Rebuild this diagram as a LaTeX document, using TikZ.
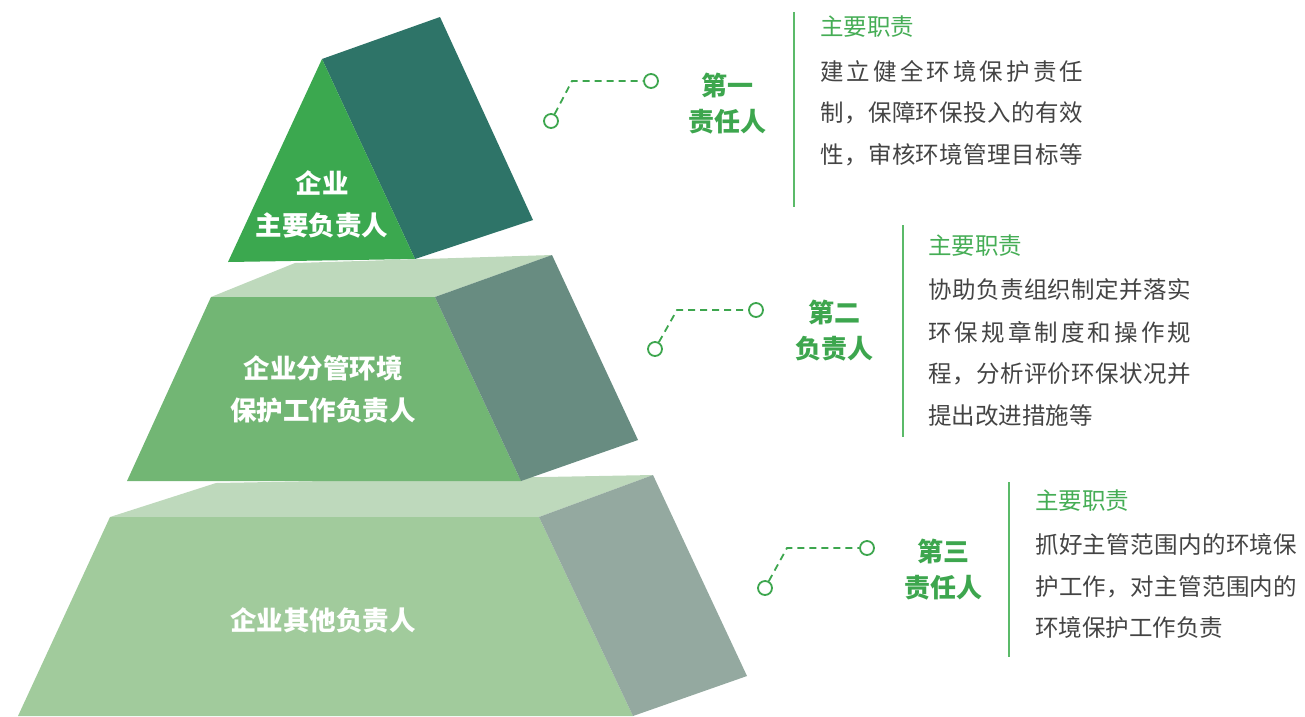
\documentclass[tikz,border=0pt]{standalone}
\usepackage{fontspec}
\setmainfont{Noto Sans CJK SC}
\definecolor{gTri}{HTML}{3BA84F}
\definecolor{gTriSide}{HTML}{2E7468}
\definecolor{gMid}{HTML}{72B674}
\definecolor{gMidSide}{HTML}{688C81}
\definecolor{gTop}{HTML}{BED9BC}
\definecolor{gBot}{HTML}{A1CB9C}
\definecolor{gBotSide}{HTML}{94A9A0}
\definecolor{accent}{HTML}{3DA64E}
\definecolor{titlec}{HTML}{45AD55}
\definecolor{lineg}{HTML}{5BBA69}
\definecolor{bodyc}{HTML}{444444}
\def\SpStart#1{#1\SpRest}
\def\SpRest#1{\ifx#1\relax\else\hfill#1\expandafter\SpRest\fi}
\newcommand\SpreadLine[2]{\hbox to #1{\SpStart#2\relax}}
\tikzset{
  pyr/.style={text=white, font=\fontsize{26.5}{42}\selectfont\bfseries, align=center, inner sep=0pt},
  lvl/.style={text=accent, font=\fontsize{26}{36}\selectfont\bfseries, align=center, inner sep=0pt},
  dot/.style={circle, draw=accent, line width=1.8pt, minimum size=14pt, inner sep=0pt, fill=white},
  lead/.style={draw=accent, line width=1.8pt, dash pattern=on 7pt off 5pt},
  titletext/.style={text=titlec, font=\fontsize{23.5}{27}\selectfont, anchor=west, inner sep=0pt},
  bodytext/.style={text=bodyc, font=\fontsize{23.5}{28}\selectfont, anchor=west, inner sep=0pt},
  rulel/.style={draw=lineg, line width=2pt},
}
\begin{document}
\begin{tikzpicture}[x=1pt, y=-1pt]
\useasboundingbox (0,0) rectangle (1305,716);
% bottom block
\fill[gTop] (110,517) -- (216,483) -- (653,475) -- (539,517) -- cycle;
\fill[gBot] (110,517) -- (539,517) -- (633,716) -- (18,716) -- cycle;
\fill[gBotSide] (539,517) -- (653,475) -- (747,676) -- (633,716) -- cycle;
% middle block
\fill[gTop] (211,297) -- (295,263) -- (552,255) -- (435,297) -- cycle;
\fill[gMid] (211,297) -- (435,297) -- (521,481) -- (127,481) -- cycle;
\fill[gMidSide] (435,297) -- (552,255) -- (638,440) -- (521,481) -- cycle;
% top block
\fill[gTriSide] (322,59) -- (440,17) -- (533,220) -- (415,259) -- cycle;
\fill[gTri] (322,59) -- (415,259) -- (228,262) -- cycle;
% pyramid labels
\node[pyr] (p1) at (322,204) {企业\\主要负责人};
\node[pyr] (p2) at (323,389) {企业分管环境\\保护工作负责人};
\node[pyr] (p3) at (323,620) {企业其他负责人};
% level labels
\node[lvl] (l1) at (727,104) {第一\\责任人};
\node[lvl] (l2) at (834,331) {第二\\负责人};
\node[lvl] (l3) at (943,570) {第三\\责任人};
% connectors
\node[dot] (c1l) at (551,121) {};
\node[dot] (c1r) at (651,81) {};
\coordinate (k1) at (572,81);
\draw[lead] (c1l) -- (k1) -- (c1r);
\node[dot] (c2l) at (655,349) {};
\node[dot] (c2r) at (756,310) {};
\coordinate (k2) at (677,310);
\draw[lead] (c2l) -- (k2) -- (c2r);
\node[dot] (c3l) at (765,588) {};
\node[dot] (c3r) at (867,548) {};
\coordinate (k3) at (787,548);
\draw[lead] (c3l) -- (k3) -- (c3r);
% text block 1
\coordinate (r1a) at (794,12); \coordinate (r1b) at (794,207);
\draw[rulel] (r1a) -- (r1b);
\node[titletext] (h1) at (820,27) {主要职责};
\node[bodytext] (b1a) at (820,71) {\SpreadLine{263pt}{建立健全环境保护责任}};
\node[bodytext] (b1b) at (820,113) {\SpreadLine{263pt}{制，保障环保投入的有效}};
\node[bodytext] (b1c) at (820,155) {\SpreadLine{263pt}{性，审核环境管理目标等}};
% text block 2
\coordinate (r2a) at (903,225); \coordinate (r2b) at (903,437);
\draw[rulel] (r2a) -- (r2b);
\node[titletext] (h2) at (928,246) {主要职责};
\node[bodytext] (b2a) at (928,290) {\SpreadLine{263pt}{协助负责组织制定并落实}};
\node[bodytext] (b2b) at (928,332) {\SpreadLine{263pt}{环保规章制度和操作规}};
\node[bodytext] (b2c) at (928,374) {\SpreadLine{263pt}{程，分析评价环保状况并}};
\node[bodytext] (b2d) at (928,416) {提出改进措施等};
% text block 3
\coordinate (r3a) at (1009,482); \coordinate (r3b) at (1009,657);
\draw[rulel] (r3a) -- (r3b);
\node[titletext] (h3) at (1035,501) {主要职责};
\node[bodytext] (b3a) at (1035,545) {\SpreadLine{262pt}{抓好主管范围内的环境保}};
\node[bodytext] (b3b) at (1035,587) {\SpreadLine{262pt}{护工作，对主管范围内的}};
\node[bodytext] (b3c) at (1035,628) {环境保护工作负责};
\end{tikzpicture}
\end{document}
